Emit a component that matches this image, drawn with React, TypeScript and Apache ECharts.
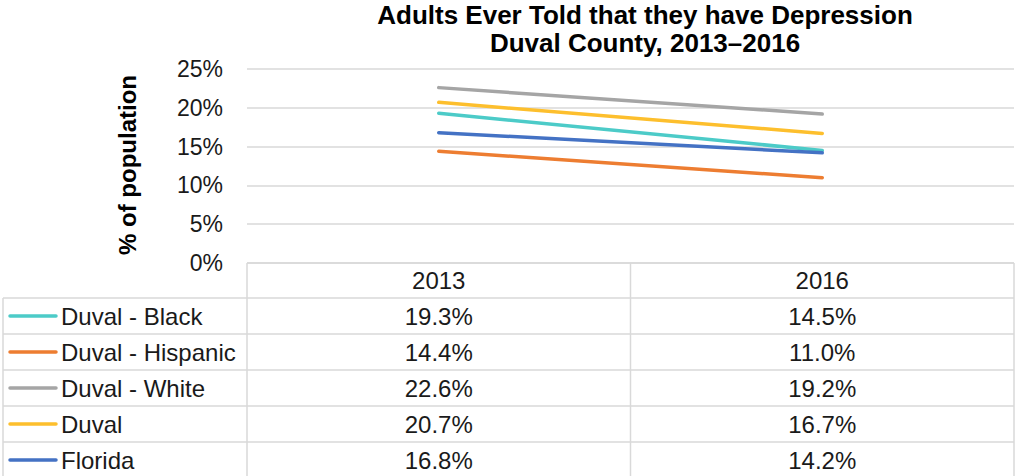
import React, { useEffect, useRef } from "react";
import * as echarts from "echarts";

const years = ["2013", "2016"];
const seriesNames = ["Duval - Black", "Duval - Hispanic", "Duval - White", "Duval", "Florida"];
const black = [19.3, 14.5];
const hispanic = [14.4, 11.0];
const white = [22.6, 19.2];
const duval = [20.7, 16.7];
const florida = [16.8, 14.2];
const seriesValues = [black, hispanic, white, duval, florida];
const colors = ["#4CCBC8", "#ED7D31", "#A5A5A5", "#FDBF2D", "#4472C4"];
const yTicks = [0, 5, 10, 15, 20, 25];

const FONT = "'Liberation Sans', Arial, sans-serif";
const BORDER = "#d9d9d9";
const TEXT = "#1a1a1a";

export default function App() {
  const ref = useRef<HTMLDivElement>(null);
  useEffect(() => {
    if (!ref.current) return;
    const chart = echarts.init(ref.current, null, { renderer: "svg" });
    const W = 1015;
    const gridLeft = 247;
    const gridRight = 1;
    const gridTop = 69;
    const plotBottom = 263;
    const headerH = 35;
    const rowH = 36;
    const tableLeft = 3;
    const plotRight = W - gridRight;

    chart.setOption({
      animation: false,
      textStyle: { fontFamily: FONT },
      title: {
        text: "Adults Ever Told that they have Depression\nDuval County, 2013\u20132016",
        left: 640,
        top: -4,
        textAlign: "center",
        textStyle: { fontFamily: FONT, fontSize: 26, fontWeight: "bold", color: "#000", lineHeight: 28 },
      },
      grid: { left: gridLeft, right: gridRight, top: gridTop, bottom: 476 - plotBottom, containLabel: false },
      xAxis: {
        type: "category",
        data: years,
        boundaryGap: true,
        axisLine: { show: false },
        axisTick: { show: false },
        splitLine: { show: false },
        axisLabel: { fontFamily: FONT, fontSize: 24, color: TEXT, margin: 5 },
      },
      yAxis: {
        type: "value",
        min: yTicks[0],
        max: yTicks[yTicks.length - 1],
        interval: 5,
        axisLine: { show: false },
        axisTick: { show: false },
        axisLabel: { fontFamily: FONT, fontSize: 23, color: TEXT, margin: 24, formatter: "{value}%" },
        splitLine: { lineStyle: { color: BORDER, width: 1.5 } },
      },
      series: seriesNames.map((name, i) => ({
        name,
        type: "line",
        data: seriesValues[i],
        symbol: "none",
        lineStyle: { color: colors[i], width: 3.5, cap: "round" },
        itemStyle: { color: colors[i] },
        z: 3 + i,
      })),
    });

    const colCenters = years.map((_, i) => chart.convertToPixel({ xAxisIndex: 0 }, i) as number);
    const colDivider = (colCenters[0] + colCenters[1]) / 2;
    const tableBottom = plotBottom + headerH + rowH * seriesNames.length;

    const graphics: any[] = [];
    const hline = (x1: number, x2: number, y: number) =>
      graphics.push({ type: "line", shape: { x1, y1: y, x2, y2: y }, style: { stroke: BORDER, lineWidth: 1.5 }, z: 10 });
    const vline = (x: number, y1: number, y2: number) =>
      graphics.push({ type: "line", shape: { x1: x, y1, x2: x, y2 }, style: { stroke: BORDER, lineWidth: 1.5 }, z: 10 });

    hline(gridLeft, plotRight, plotBottom);
    for (let r = 0; r <= seriesNames.length; r++) {
      hline(tableLeft, plotRight, plotBottom + headerH + rowH * r);
    }
    vline(tableLeft, plotBottom + headerH, tableBottom);
    vline(gridLeft, plotBottom, tableBottom);
    vline(colDivider, plotBottom, tableBottom);
    vline(plotRight, plotBottom, tableBottom);

    seriesNames.forEach((name, r) => {
      const cy = plotBottom + headerH + rowH * r + rowH / 2;
      graphics.push({
        type: "line",
        shape: { x1: 10, y1: cy, x2: 56, y2: cy },
        style: { stroke: colors[r], lineWidth: 3.5, lineCap: "round" },
        z: 11,
      });
      graphics.push({
        type: "text",
        x: 61,
        y: cy,
        style: { text: name, fontFamily: FONT, fontSize: 24, fill: TEXT, textAlign: "left", textVerticalAlign: "middle" },
        z: 11,
      });
      seriesValues[r].forEach((v, c) => {
        graphics.push({
          type: "text",
          x: colCenters[c],
          y: cy,
          style: { text: v.toFixed(1) + "%", fontFamily: FONT, fontSize: 24, fill: TEXT, textAlign: "center", textVerticalAlign: "middle" },
          z: 11,
        });
      });
    });

    graphics.push({
      type: "text",
      x: 127,
      y: 165,
      rotation: Math.PI / 2,
      style: { text: "% of population", fontFamily: FONT, fontSize: 24, fontWeight: "bold", fill: "#000", textAlign: "center", textVerticalAlign: "middle" },
    });

    chart.setOption({ graphic: graphics });

    return () => chart.dispose();
  }, []);

  return <div ref={ref} style={{ position: "absolute", left: 0, top: 0, width: 1015, height: 476, background: "#fff" }} />;
}
